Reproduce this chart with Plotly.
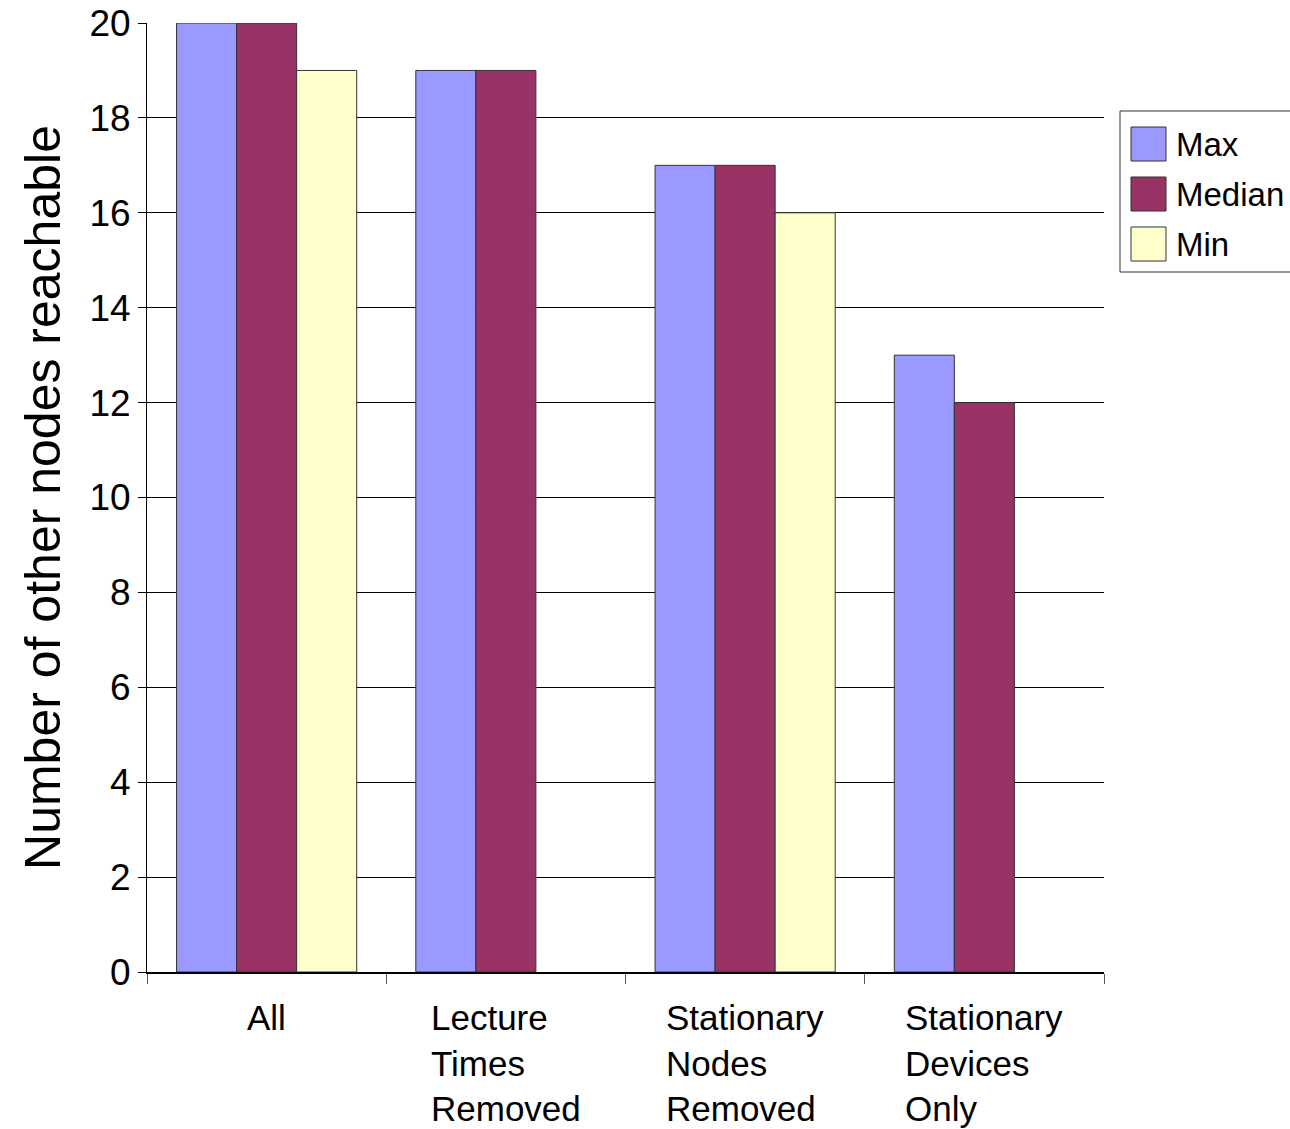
import plotly.graph_objects as go

# Reachability per scenario
categories = ["All", "Lecture Times Removed", "Stationary Nodes Removed", "Stationary Devices Only"]
category_labels = ["All", "Lecture<br>Times<br>Removed", "Stationary<br>Nodes<br>Removed", "Stationary<br>Devices<br>Only"]
max_values = [20, 19, 17, 13]
median_values = [20, 19, 17, 12]
min_values = [19, None, 16, None]

series_names = ["Max", "Median", "Min"]
series_colors = ["#9999FF", "#993366", "#FFFFCC"]
y_ticks = list(range(0, 21, 2))

FONT = "Liberation Sans, Arial, sans-serif"
W, H = 1290, 1129
L, R, T, B = 147, 186, 23, 157

fig = go.Figure()
for name, vals, color in zip(series_names, [max_values, median_values, min_values], series_colors):
    fig.add_trace(go.Bar(
        x=categories, y=vals, name=name,
        marker=dict(color=color, line=dict(color="#333333", width=1)),
        showlegend=False,
    ))

fig.update_layout(
    width=W, height=H,
    margin=dict(l=L, r=R, t=T, b=B, autoexpand=False),
    paper_bgcolor="white", plot_bgcolor="white",
    barmode="group", bargap=0.247, bargroupgap=0,
    font=dict(family=FONT, color="black"),
)

fig.update_xaxes(
    showticklabels=False,
    ticks="outside", tickson="boundaries", ticklen=10, tickcolor="#555555", tickwidth=1,
    showline=True, linecolor="black", linewidth=2,
    showgrid=False,
)
fig.update_yaxes(
    range=[0, 20], tickvals=y_ticks,
    ticks="outside", ticklen=8, tickcolor="black", tickwidth=1,
    tickfont=dict(size=37, family=FONT),
    showline=True, linecolor="black", linewidth=1,
    showgrid=True, gridcolor="black", gridwidth=1,
    zeroline=False,
    title=dict(text="Number of other nodes reachable", font=dict(size=50, family=FONT), standoff=12),
)

# Category labels: centred blocks with left-aligned lines
for cat, lab in zip(categories, category_labels):
    fig.add_annotation(
        x=cat, y=0, xref="x", yref="y", text=lab, showarrow=False,
        xanchor="center", yanchor="top", align="left", yshift=-24,
        font=dict(size=35, family=FONT, color="black"),
    )

# Legend box drawn in paper coordinates
pw, ph = W - L - R, H - T - B
def px(x):
    return (x - L) / pw
def py(y):
    return (H - B - y) / ph

fig.add_shape(type="rect", xref="paper", yref="paper",
              x0=px(1120), x1=px(1300), y0=py(272), y1=py(111),
              line=dict(color="#333333", width=1), fillcolor="white")
for i, (name, color) in enumerate(zip(series_names, series_colors)):
    top = 127 + 50 * i
    fig.add_shape(type="rect", xref="paper", yref="paper",
                  x0=px(1131), x1=px(1166), y0=py(top + 34), y1=py(top),
                  line=dict(color="#333333", width=1), fillcolor=color)
    fig.add_annotation(x=px(1174), y=py(top + 17), xref="paper", yref="paper",
                       text=name, showarrow=False, xanchor="left", yanchor="middle",
                       font=dict(size=33, family=FONT, color="black"))

fig.write_html("out.html")
